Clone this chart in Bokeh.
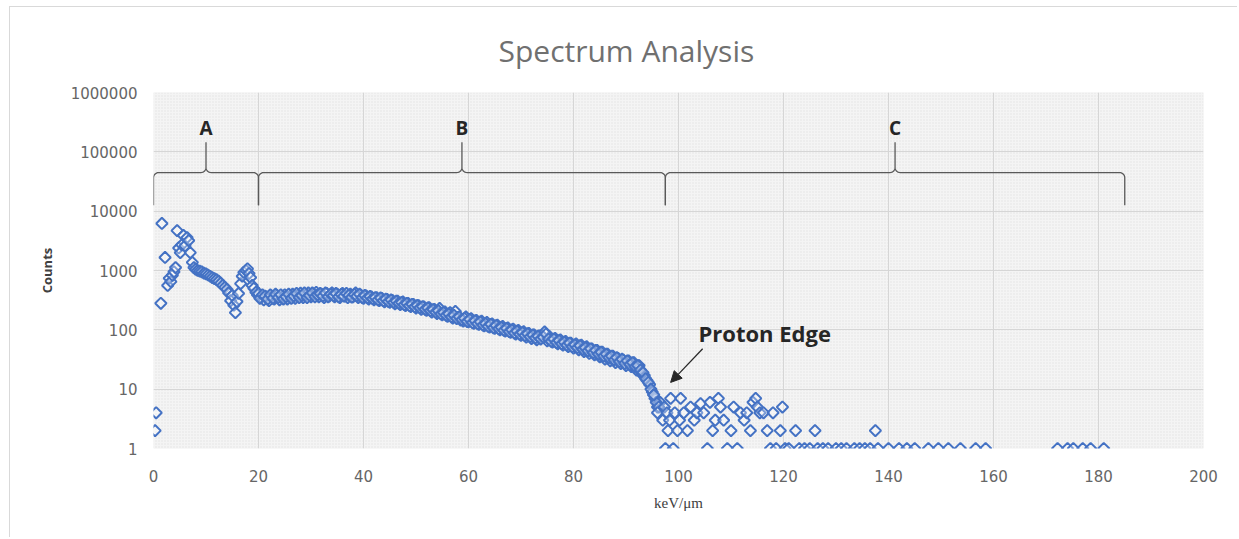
import numpy as np
from bokeh.plotting import figure
from bokeh.models import (Range1d, FixedTicker, PrintfTickFormatter, BoxAnnotation,
                          Arrow, NormalHead, ColumnDataSource, Title)
from bokeh.core.properties import value
from bokeh.embed import file_html
from bokeh.resources import INLINE

# ---------------- data ----------------
region_a_x = [0.3, 0.5, 1.4, 1.6, 2.2, 2.7, 3.0, 3.3, 3.6, 3.9, 4.2, 4.5, 4.8, 5.1, 5.4,
              5.7, 6.0, 6.4, 6.7, 7.0, 7.4, 7.7, 8.0, 8.4, 8.8, 9.2, 9.6, 10.0, 10.4,
              10.8, 11.2, 11.6, 12.0, 12.4, 12.8, 13.2, 13.6, 14.0, 14.3, 14.7, 15.0,
              15.3, 15.6, 15.9, 16.2, 16.6, 16.9, 17.2, 17.6, 17.9, 18.2, 18.5, 18.8,
              19.1, 19.5, 19.8]
region_a_y = [2, 4, 280, 6200, 1660, 560, 740, 650, 830, 950, 1120, 4700, 2400, 2000, 2700,
              3900, 2600, 3600, 3200, 2000, 1370, 1120, 1050, 1000, 980, 950, 900, 880, 840,
              800, 760, 730, 700, 660, 610, 560, 520, 480, 420, 310, 380,
              260, 195, 300, 410, 600, 800, 930, 1000, 1070, 890, 760, 560,
              500, 430, 390]

band_x = [20.0, 20.5, 21.0, 21.5, 22.0, 22.5, 23.0, 23.5, 24.0, 24.5, 25.0, 25.5, 26.0, 26.5,
          27.0, 27.5, 28.0, 28.5, 29.0, 29.5, 30.0, 30.5, 31.0, 31.5, 32.0, 32.5, 33.0, 33.5,
          34.0, 34.5, 35.0, 35.5, 36.0, 36.5, 37.0, 37.5, 38.0, 38.5, 39.0, 39.5, 40.0, 40.5,
          41.0, 41.5, 42.0, 42.5, 43.0, 43.5, 44.0, 44.5, 45.0, 45.5, 46.0, 46.5, 47.0, 47.5,
          48.0, 48.5, 49.0, 49.5, 50.0, 50.5, 51.0, 51.5, 52.0, 52.5, 53.0, 53.5, 54.0, 54.5,
          55.0, 55.5, 56.0, 56.5, 57.0, 57.5, 58.0, 58.5, 59.0, 59.5, 60.0, 60.5, 61.0, 61.5,
          62.0, 62.5, 63.0, 63.5, 64.0, 64.5, 65.0, 65.5, 66.0, 66.5, 67.0, 67.5, 68.0, 68.5,
          69.0, 69.5, 70.0, 70.5, 71.0, 71.5, 72.0, 72.5, 73.0, 73.5, 74.0, 74.5, 75.0, 75.5,
          76.0, 76.5, 77.0, 77.5, 78.0, 78.5, 79.0, 79.5, 80.0, 80.5, 81.0, 81.5, 82.0, 82.5,
          83.0, 83.5, 84.0, 84.5, 85.0, 85.5, 86.0, 86.5, 87.0, 87.5, 88.0, 88.5, 89.0, 89.5,
          90.0, 90.5, 91.0, 91.5, 92.0, 92.5, 93.0, 93.5, 94.0, 94.5, 95.0, 95.5, 96.0, 96.5]
band_y = [410, 350, 320, 360, 310, 370, 330, 380, 320, 360, 390, 330, 370, 400,
          340, 380, 415, 350, 390, 420, 360, 400, 430, 360, 400, 350, 410, 370,
          420, 360, 400, 350, 410, 370, 350, 400, 360, 420, 350, 385, 340, 375,
          330, 360, 320, 350, 310, 340, 295, 325, 290, 315, 275, 305, 265, 295,
          255, 280, 245, 270, 232, 256, 222, 245, 212, 236, 198, 222, 188, 230,
          178, 200, 168, 195, 158, 205, 163, 146, 140, 165, 136, 155, 128, 145,
          123, 140, 116, 134, 111, 126, 106, 120, 100, 114, 95, 108, 91, 103,
          85, 98, 81, 93, 75, 87, 71, 82, 68, 79, 80, 92, 65, 76,
          62, 72, 58, 68, 55, 64, 52, 60, 49, 58, 46, 55, 43, 52,
          40, 48, 38, 45, 35, 42, 32, 39, 30, 36, 28, 33, 27, 31,
          25, 30, 24, 28, 21, 25, 18, 17, 14, 12, 9, 7, 5, 6]

band2_x = [20.25, 20.75, 21.25, 21.75, 22.25, 22.75, 23.25, 23.75, 24.25, 24.75,
           25.25, 25.75, 26.25, 26.75, 27.25, 27.75, 28.25, 28.75, 29.25, 29.75,
           30.25, 30.75, 31.25, 31.75, 32.25, 32.75, 33.25, 33.75, 34.25, 34.75,
           35.25, 35.75, 36.25, 36.75, 37.25, 37.75, 38.25, 38.75, 39.25, 39.75,
           40.25, 40.75, 41.25, 41.75, 42.25, 42.75, 43.25, 43.75, 44.25, 44.75,
           45.25, 45.75, 46.25, 46.75, 47.25, 47.75, 48.25, 48.75, 49.25, 49.75,
           50.25, 50.75, 51.25, 51.75, 52.25, 52.75, 53.25, 53.75, 54.25, 54.75,
           55.25, 55.75, 56.25, 56.75, 57.25, 57.75, 58.25, 58.75, 59.25, 59.75,
           60.25, 60.75, 61.25, 61.75, 62.25, 62.75, 63.25, 63.75, 64.25, 64.75,
           65.25, 65.75, 66.25, 66.75, 67.25, 67.75, 68.25, 68.75, 69.25, 69.75,
           70.25, 70.75, 71.25, 71.75, 72.25, 72.75, 73.25, 73.75, 74.25, 74.75,
           75.25, 75.75, 76.25, 76.75, 77.25, 77.75, 78.25, 78.75, 79.25, 79.75,
           80.25, 80.75, 81.25, 81.75, 82.25, 82.75, 83.25, 83.75, 84.25, 84.75,
           85.25, 85.75, 86.25, 86.75, 87.25, 87.75, 88.25, 88.75, 89.25, 89.75,
           90.25, 90.75, 91.25, 91.75, 92.25, 92.75, 93.25, 93.75, 94.25, 94.75,
           95.25, 95.75, 96.25]
band2_y = [340, 390, 370, 330, 390, 340, 400, 350, 390, 330,
           360, 400, 340, 370, 410, 350, 380, 420, 350, 380,
           420, 360, 390, 410, 370, 420, 360, 400, 380, 410,
           360, 395, 370, 410, 385, 355, 395, 370, 400, 350,
           380, 345, 365, 335, 350, 320, 345, 310, 330, 300,
           320, 290, 305, 280, 290, 265, 280, 255, 270, 245,
           258, 235, 246, 222, 234, 210, 220, 198, 210, 185,
           196, 175, 186, 165, 176, 155, 166, 148, 156, 138,
           150, 132, 142, 126, 136, 120, 128, 114, 124, 108,
           118, 104, 110, 98, 106, 93, 100, 88, 95, 84,
           90, 80, 86, 76, 82, 73, 78, 70, 75, 85,
           70, 64, 70, 61, 66, 58, 62, 55, 60, 52,
           56, 50, 54, 47, 50, 44, 48, 41, 45, 39,
           42, 36, 39, 34, 36, 31, 34, 29, 32, 27,
           30, 26, 28, 24, 25, 21, 19, 15, 13, 10,
           8, 6, 5]

region_c_x = [95.3, 96.0, 97.0, 97.3, 97.5, 97.8, 98.0, 98.3, 98.5, 99.0, 99.3, 99.8, 100.2,
              100.4, 101.0, 101.7, 102.3, 103.0, 103.5, 104.2, 104.8, 105.5, 106.0, 106.5,
              107.0, 107.6, 108.0, 108.6, 109.3, 110.0, 110.5, 111.2, 111.8, 112.5, 113.0,
              113.7, 114.2, 114.7, 115.0, 115.5, 116.2, 116.9, 117.5, 118.0, 118.6, 119.4,
              119.8, 120.3, 121.0, 122.3, 123.0, 124.0, 125.0, 126.0, 126.5, 127.5, 128.5,
              130.0, 131.0, 132.0, 133.5, 134.5, 135.5, 136.5, 137.5, 138.0, 140.0, 142.0,
              143.5, 145.0, 147.6, 149.5, 151.4, 153.7, 156.6, 158.5, 172.2, 174.1, 175.2,
              177.0, 178.5, 181.0]
region_c_y = [8, 4, 3, 5, 1, 4, 2, 3, 7, 1, 4, 2, 3,
              7, 4, 2, 5, 3, 4, 5.7, 4, 1, 6, 2,
              3, 7, 5, 3, 1, 2, 5, 1, 4, 3, 4,
              2, 6, 7, 5, 4, 4, 2, 1, 4, 1, 2,
              5, 1, 1, 2, 1, 1, 1, 2, 1, 1, 1,
              1, 1, 1, 1, 1, 1, 1, 2, 1, 1, 1,
              1, 1, 1, 1, 1, 1, 1, 1, 1, 1, 1,
              1, 1, 1]

x_ticks = [0, 20, 40, 60, 80, 100, 120, 140, 160, 180, 200]
y_ticks = [1, 10, 100, 1000, 10000, 100000, 1000000]

region_labels = ["A", "B", "C"]
region_start = [0.0, 20.0, 97.5]
region_end = [20.0, 97.5, 185.0]

title_text = "Spectrum Analysis"
edge_label = "Proton Edge"
edge_text_x, edge_text_y = 103.8, 90
edge_arrow_from = (104.6, 48)
edge_arrow_to = (98.5, 13)

BLUE = "#4472C4"

# ---------------- figure ----------------
p = figure(width=1228, height=531, output_backend="svg", toolbar_location=None,
           y_axis_type="log", x_range=Range1d(0, 200), y_range=Range1d(1, 1e6),
           min_border_left=143, min_border_right=35, min_border_top=85,
           min_border_bottom=90)
p.margin = (6, 0, 0, 9)
p.styles = {"border-left": "1px solid #d9d9d9", "border-top": "1px solid #d9d9d9"}
p.outline_line_color = None
p.background_fill_color = "#f4f4f4"

bg = BoxAnnotation(left=0, right=200, bottom=1, top=1e6, level="image",
                   fill_color="#f4f4f4", fill_alpha=1, line_color=None,
                   hatch_pattern="dot", hatch_color="#e4e4e4", hatch_scale=3,
                   hatch_weight=1)
p.add_layout(bg)

t = Title(text=title_text, align="left", offset=345, vertical_align="middle",
          text_font="Open Sans", text_font_size="30px", text_font_style="normal",
          text_color="#707070", standoff=41)
p.add_layout(t, "above")

p.xaxis.ticker = FixedTicker(ticks=x_ticks)
p.yaxis.ticker = FixedTicker(ticks=y_ticks)
p.yaxis.formatter = PrintfTickFormatter(format="%d")
p.xgrid.ticker = FixedTicker(ticks=x_ticks)
p.ygrid.ticker = FixedTicker(ticks=y_ticks)
for g in (p.xgrid, p.ygrid):
    g.grid_line_color = "#d6d6d6"
    g.grid_line_width = 1
for ax in (p.xaxis, p.yaxis):
    ax.axis_line_color = None
    ax.major_tick_line_color = None
    ax.minor_tick_line_color = None
    ax.major_label_text_font = "DejaVu Sans"
    ax.major_label_text_font_size = "15px"
    ax.major_label_text_color = "#666666"
p.xaxis.major_label_standoff = 15
p.yaxis.major_label_standoff = 10
p.xaxis.axis_label = "keV/\u03bcm"
p.xaxis.axis_label_text_font = "Liberation Serif"
p.xaxis.axis_label_text_font_style = "normal"
p.xaxis.axis_label_text_font_size = "15px"
p.xaxis.axis_label_text_color = "#404040"
p.xaxis.axis_label_standoff = 10
p.yaxis.axis_label = "Counts"
p.yaxis.axis_label_text_font = "Open Sans"
p.yaxis.axis_label_text_font_style = "bold"
p.yaxis.axis_label_text_font_size = "13px"
p.yaxis.axis_label_text_color = "#404040"
p.yaxis.axis_label_standoff = 12

# ---------------- scatter ----------------
all_x = region_a_x + band_x + band2_x + region_c_x
all_y = region_a_y + band_y + band2_y + region_c_y
src = ColumnDataSource(dict(x=all_x, y=all_y))
p.scatter("x", "y", source=src, marker="square", angle=np.pi / 4, size=8,
          line_color=BLUE, line_width=2, fill_color="white", fill_alpha=0.3)

# ---------------- braces ----------------
Y_LINE, Y_END, Y_TIP = 4.65, 4.10, 5.16   # log10 levels
RX, RY = 1.0, 0.085
tq = np.linspace(0, np.pi / 2, 8)


def brace(x0, x1):
    xm = (x0 + x1) / 2
    xs, ls = [x0], [Y_END]
    xs += list(x0 + RX - RX * np.cos(tq)); ls += list(Y_LINE - RY + RY * np.sin(tq))
    xs += list(xm - RX + RX * np.sin(tq)); ls += list(Y_LINE + RY - RY * np.cos(tq))
    xs += [xm]; ls += [Y_TIP]
    xs += list(xm + RX - RX * np.sin(tq[::-1])); ls += list(Y_LINE + RY - RY * np.cos(tq[::-1]))
    xs += list(x1 - RX + RX * np.sin(tq)); ls += list(Y_LINE - RY + RY * np.cos(tq))
    xs += [x1]; ls += [Y_END]
    return xs, [10 ** v for v in ls]


for s, e in zip(region_start, region_end):
    bx, by = brace(s, e)
    p.line(bx, by, line_color="#595959", line_width=1.3)

lab_src = ColumnDataSource(dict(
    x=[(s + e) / 2 for s, e in zip(region_start, region_end)],
    y=[10 ** 5.41] * len(region_labels), t=region_labels))
p.text("x", "y", text="t", source=lab_src, text_font=value("Open Sans"),
       text_font_style="bold", text_font_size="19px", text_color="#262626",
       text_align="center", text_baseline="middle")

p.text(x=[edge_text_x], y=[edge_text_y], text=[edge_label], text_font=value("Open Sans"),
       text_font_style="bold", text_font_size="22px", text_color="#262626",
       text_align="left", text_baseline="middle")
p.add_layout(Arrow(end=NormalHead(size=11, fill_color="#262626", line_color="#262626"),
                   x_start=edge_arrow_from[0], y_start=edge_arrow_from[1],
                   x_end=edge_arrow_to[0], y_end=edge_arrow_to[1],
                   line_color="#262626", line_width=1.2))

open("out.html", "w").write(file_html(p, INLINE))
